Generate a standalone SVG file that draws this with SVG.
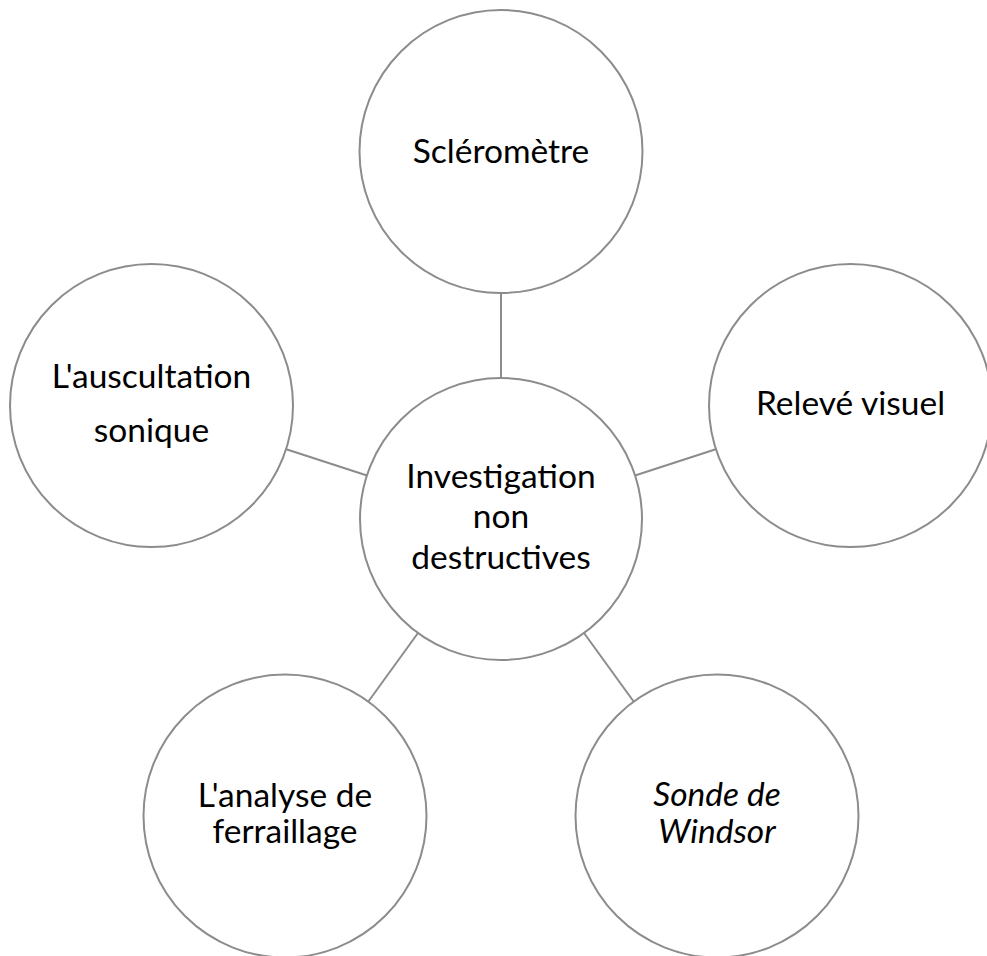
<svg xmlns="http://www.w3.org/2000/svg" width="987" height="956" viewBox="0 0 987 956">
<style>
.node circle{fill:#fff;stroke:#8c8c8c;stroke-width:2}
.edge{stroke:#8c8c8c;stroke-width:2;fill:none}
text{font-family:Lato,"Liberation Sans",sans-serif;font-size:33.5px;fill:#000;text-anchor:middle}
.it{font-style:italic}
</style>
<rect width="987" height="956" fill="#fff"/>
<g id="connectors">
<line class="edge" x1="501" y1="293" x2="501" y2="378"/>
<line class="edge" x1="285.5" y1="449" x2="367" y2="475.5"/>
<line class="edge" x1="716.5" y1="449" x2="635" y2="475.5"/>
<line class="edge" x1="368" y1="702" x2="418" y2="633"/>
<line class="edge" x1="634" y1="702" x2="584" y2="633"/>
</g>
<g id="n-sclerometre" class="node"><circle cx="501" cy="151.5" r="141.5"/><text x="501" y="162.5">Scléromètre</text></g>
<g id="n-auscultation" class="node"><circle cx="151.5" cy="405.5" r="141.5"/><text x="151.5" y="388">L'auscultation</text><text x="151.5" y="442">sonique</text></g>
<g id="n-releve" class="node"><circle cx="850.5" cy="405.5" r="141.5"/><text x="850.5" y="415">Relevé visuel</text></g>
<g id="n-ferraillage" class="node"><circle cx="285" cy="816" r="141.5"/><text x="285" y="807">L'analyse de</text><text x="285" y="843">ferraillage</text></g>
<g id="n-windsor" class="node"><circle cx="717" cy="816" r="141.5"/><text class="it" x="717" y="806">Sonde de</text><text class="it" x="717" y="843">Windsor</text></g>
<g id="n-center" class="node"><circle cx="501" cy="519" r="141"/><text x="501" y="488">Investigation</text><text x="501" y="528">non</text><text x="501" y="569">destructives</text></g>
</svg>
